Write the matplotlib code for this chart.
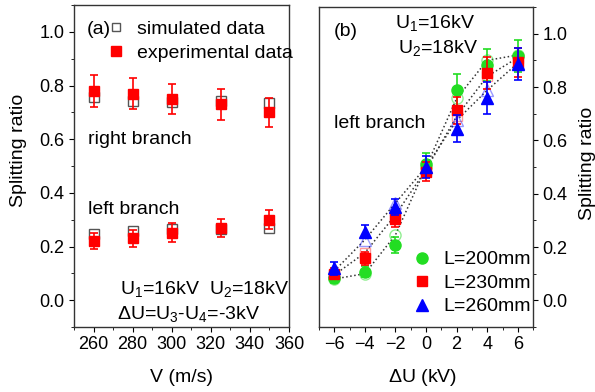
import matplotlib
matplotlib.use("Agg")
import matplotlib.pyplot as plt
from matplotlib.ticker import MultipleLocator
from matplotlib.lines import Line2D

plt.rcParams['font.family'] = ['Liberation Sans', 'DejaVu Sans']
plt.rcParams['font.size'] = 13
plt.rcParams['mathtext.fontset'] = 'custom'
plt.rcParams['mathtext.rm'] = 'Liberation Sans'
plt.rcParams['mathtext.it'] = 'Liberation Sans'

# ---- panel (a) data ----
velocity = [260, 280, 300, 325, 350]
right_exp = [0.78, 0.77, 0.75, 0.73, 0.70]
right_exp_err = [0.06, 0.058, 0.056, 0.057, 0.055]
right_sim = [0.757, 0.744, 0.74, 0.744, 0.735]
left_exp = [0.22, 0.23, 0.252, 0.27, 0.30]
left_exp_err = [0.031, 0.032, 0.035, 0.034, 0.035]
left_sim = [0.245, 0.256, 0.264, 0.265, 0.27]

# ---- panel (b) data ----
delta_u = [-6, -4, -2, 0, 2, 4, 6]
labels_b = ["L=200mm", "L=230mm", "L=260mm"]
exp_200 = [0.085, 0.108, 0.208, 0.513, 0.79, 0.881, 0.915]
exp_230 = [0.10, 0.158, 0.304, 0.482, 0.713, 0.852, 0.893]
exp_260 = [0.12, 0.258, 0.351, 0.50, 0.644, 0.757, 0.887]
err_200 = [0.02, 0.02, 0.03, 0.04, 0.06, 0.06, 0.06]
err_230 = [0.02, 0.025, 0.03, 0.035, 0.05, 0.06, 0.055]
err_260 = [0.025, 0.025, 0.03, 0.04, 0.05, 0.06, 0.06]
sim_200 = [0.08, 0.10, 0.245, 0.50, 0.757, 0.90, 0.92]
sim_230 = [0.095, 0.178, 0.32, 0.49, 0.69, 0.84, 0.91]
sim_260 = [0.11, 0.227, 0.365, 0.50, 0.675, 0.788, 0.89]

fig = plt.figure(figsize=(5.95, 3.92), dpi=100)
axa = fig.add_axes([0.1244, 0.1658, 0.3613, 0.8214])
axb = fig.add_axes([0.536, 0.1658, 0.36, 0.8163])

red = '#ff0000'
green = '#22dd22'
blue = '#0000ff'
afs = 14
lfs = 14

# panel (a)
for sim in (right_sim, left_sim):
    axa.plot(velocity, sim, ls='none', marker='s', ms=7, mfc='white',
             mec='#555555', mew=1.0, zorder=2)
for exp, err in ((right_exp, right_exp_err), (left_exp, left_exp_err)):
    axa.errorbar(velocity, exp, yerr=err, fmt='s', ms=7, color=red,
                 ecolor=red, elinewidth=1.2, capsize=3, capthick=1.2, zorder=3)

axa.set_xlim(250, 360)
axa.set_ylim(-0.1, 1.1)
axa.xaxis.set_major_locator(MultipleLocator(20))
axa.xaxis.set_minor_locator(MultipleLocator(10))
axa.yaxis.set_major_locator(MultipleLocator(0.2))
axa.yaxis.set_minor_locator(MultipleLocator(0.1))
axa.tick_params(which='both', direction='out', top=False, right=False, pad=3)
axa.tick_params(which='major', length=3.8)
axa.tick_params(which='minor', length=2.3)
axa.set_xlabel('V (m/s)', fontsize=lfs)
axa.set_ylabel('Splitting ratio', fontsize=lfs)
axa.xaxis.label.set_va('center')
axa.yaxis.label.set_va('center')
axa.xaxis.set_label_coords(0.5, -0.158)
axa.yaxis.set_label_coords(-0.26, 0.55)

h_sim = Line2D([], [], ls='none', marker='s', ms=6, mfc='white', mec='#555555')
h_exp = Line2D([], [], ls='none', marker='s', ms=7, color=red)
axa.legend([h_sim, h_exp], ['simulated data', 'experimental data'],
           loc='upper left', bbox_to_anchor=(0.077, 1.0), frameon=False,
           handlelength=1.0, handletextpad=0.6, borderpad=0.3, labelspacing=0.3,
           fontsize=afs)
axa.text(0.06, 0.95, '(a)', transform=axa.transAxes, ha='left', va='top', fontsize=afs)
axa.text(257, 0.60, 'right branch', ha='left', va='center', fontsize=afs)
axa.text(257, 0.337, 'left branch', ha='left', va='center', fontsize=afs)
axa.text(273.6, 0.04, r'U$_1$=16kV  U$_2$=18kV', ha='left', va='center', fontsize=afs)
axa.text(272, -0.053, r'$\Delta$U=U$_3$-U$_4$=-3kV', ha='left', va='center', fontsize=afs)

# panel (b)
for sim in (sim_200, sim_230, sim_260):
    axb.plot(delta_u, sim, ls=':', color='#333333', lw=1.1, zorder=1)
axb.plot(delta_u, sim_200, ls='none', marker='o', ms=8, mfc='none', mec=green, alpha=0.5, zorder=2)
axb.plot(delta_u, sim_230, ls='none', marker='s', ms=7, mfc='none', mec=red, alpha=0.4, zorder=2)
axb.plot(delta_u, sim_260, ls='none', marker='^', ms=8, mfc='none', mec=blue, alpha=0.4, zorder=2)

axb.errorbar(delta_u, exp_200, yerr=err_200, fmt='o', ms=8, color=green,
             elinewidth=1.2, capsize=3, capthick=1.2, zorder=3, label=labels_b[0])
axb.errorbar(delta_u, exp_230, yerr=err_230, fmt='s', ms=7, color=red,
             elinewidth=1.2, capsize=3, capthick=1.2, zorder=4, label=labels_b[1])
axb.errorbar(delta_u, exp_260, yerr=err_260, fmt='^', ms=9, color=blue,
             elinewidth=1.2, capsize=3, capthick=1.2, zorder=5, label=labels_b[2])

axb.set_xlim(-7, 7)
axb.set_ylim(-0.1, 1.1)
axb.xaxis.set_major_locator(MultipleLocator(2))
axb.xaxis.set_minor_locator(MultipleLocator(1))
axb.yaxis.set_major_locator(MultipleLocator(0.2))
axb.yaxis.set_minor_locator(MultipleLocator(0.1))
axb.yaxis.tick_right()
axb.yaxis.set_label_position('right')
axb.tick_params(which='both', direction='out', top=False, left=False, pad=3)
axb.tick_params(which='major', length=3.8)
axb.tick_params(which='minor', length=2.3)
axb.set_xlabel(r'$\Delta$U (kV)', fontsize=lfs)
axb.set_ylabel('Splitting ratio', fontsize=lfs)
axb.xaxis.label.set_va('center')
axb.yaxis.label.set_va('center')
axb.xaxis.set_label_coords(0.484, -0.158)
axb.yaxis.set_label_coords(1.252, 0.51)

hb = [Line2D([], [], ls='none', marker='o', ms=8, color=green),
      Line2D([], [], ls='none', marker='s', ms=7, color=red),
      Line2D([], [], ls='none', marker='^', ms=9, color=blue)]
axb.legend(hb, labels_b, loc='lower right', frameon=False, handlelength=1.0,
           handletextpad=0.6, borderpad=0.1, labelspacing=0.3, fontsize=afs,
           bbox_to_anchor=(1.045, 0.0))
axb.text(0.07, 0.95, '(b)', transform=axb.transAxes, ha='left', va='top', fontsize=afs)
axb.text(-2.0, 1.04, r'U$_1$=16kV', ha='left', va='center', fontsize=afs)
axb.text(-1.8, 0.945, r'U$_2$=18kV', ha='left', va='center', fontsize=afs)
axb.text(-6.0, 0.665, 'left branch', ha='left', va='center', fontsize=afs)

for ax in (axa, axb):
    for s in ax.spines.values():
        s.set_color('#333333')
        s.set_linewidth(1.0)

fig.savefig('out.png', dpi=100)
